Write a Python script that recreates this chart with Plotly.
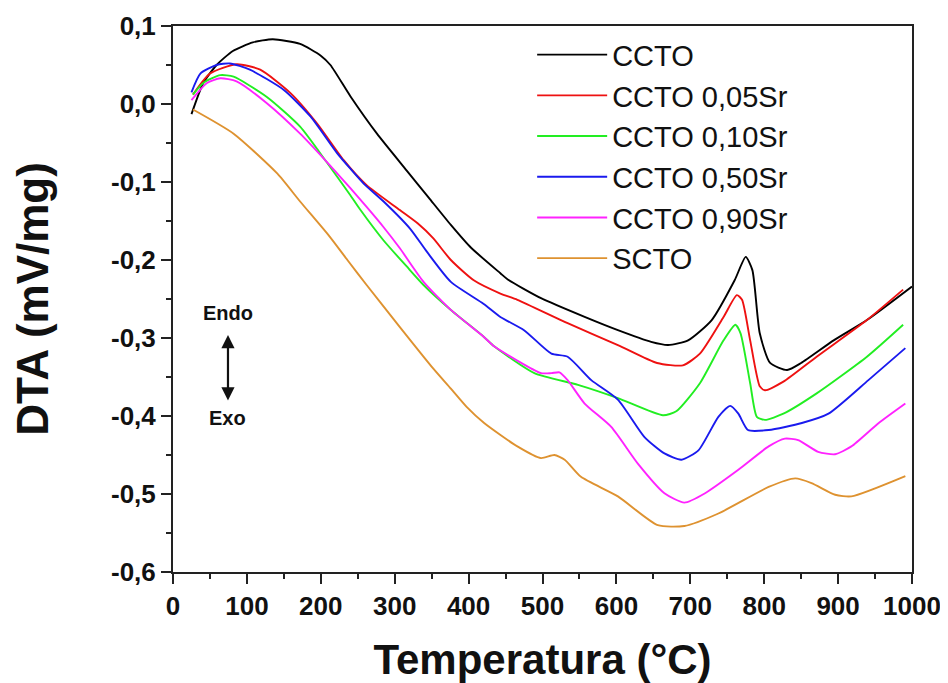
import plotly.graph_objects as go

# ---------------- data ----------------
T_ccto = [25, 41, 59, 81, 108, 135, 172, 200, 213, 240, 276, 316, 346, 376, 403, 443, 453, 498,
          557, 602, 647, 670, 697, 729, 760, 775, 784, 794, 808, 831, 850, 894, 939, 1000]
y_ccto = [-0.013, 0.027, 0.050, 0.068, 0.079, 0.083, 0.077, 0.062, 0.050, 0.010, -0.038, -0.085, -0.120,
          -0.155, -0.184, -0.217, -0.225, -0.249, -0.273, -0.290, -0.305, -0.309, -0.303, -0.277, -0.226,
          -0.196, -0.213, -0.294, -0.332, -0.341, -0.332, -0.303, -0.277, -0.234]

T_005 = [27, 50, 86, 118, 159, 195, 231, 262, 307, 331, 352, 376, 407, 443, 466, 534, 602, 655, 690,
         713, 745, 763, 770, 781, 794, 801, 826, 871, 939, 988]
y_005 = [0.012, 0.039, 0.051, 0.044, 0.014, -0.025, -0.072, -0.104, -0.136, -0.153, -0.172, -0.200,
         -0.226, -0.243, -0.251, -0.281, -0.309, -0.332, -0.335, -0.320, -0.273, -0.245, -0.251, -0.303, -0.362,
         -0.367, -0.356, -0.324, -0.277, -0.238]

T_010 = [27, 41, 64, 82, 127, 172, 209, 240, 253, 285, 316, 339, 376, 420, 435, 489, 548, 602, 663, 681,
         713, 745, 761, 768, 781, 790, 801, 826, 871, 939, 988]
y_010 = [0.012, 0.027, 0.037, 0.035, 0.009, -0.029, -0.076, -0.117, -0.135, -0.175, -0.208, -0.232, -0.264,
         -0.298, -0.311, -0.345, -0.360, -0.377, -0.399, -0.394, -0.358, -0.303, -0.283, -0.294, -0.358, -0.401,
         -0.405, -0.397, -0.371, -0.324, -0.283]

T_050 = [25, 37, 59, 77, 104, 150, 186, 222, 240, 258, 285, 321, 344, 376, 420, 443, 475, 512, 534, 566,
         602, 638, 665, 688, 711, 738, 754, 765, 778, 806, 851, 887, 941, 991]
y_050 = [0.015, 0.039, 0.050, 0.052, 0.044, 0.018, -0.016, -0.063, -0.083, -0.102, -0.125, -0.160, -0.190,
         -0.228, -0.256, -0.273, -0.290, -0.320, -0.324, -0.354, -0.379, -0.427, -0.448, -0.456, -0.444, -0.401,
         -0.387, -0.397, -0.418, -0.418, -0.409, -0.397, -0.354, -0.313]

T_090 = [25, 46, 64, 86, 127, 172, 204, 240, 262, 285, 307, 339, 376, 420, 435, 498, 512, 523, 534, 557,
         593, 629, 665, 692, 720, 765, 806, 828, 846, 873, 896, 918, 955, 991]
y_090 = [0.005, 0.027, 0.033, 0.029, 0.001, -0.038, -0.070, -0.108, -0.132, -0.158, -0.185, -0.228, -0.264,
         -0.298, -0.311, -0.345, -0.345, -0.344, -0.354, -0.384, -0.414, -0.461, -0.499, -0.511, -0.499, -0.469,
         -0.439, -0.429, -0.431, -0.446, -0.449, -0.439, -0.409, -0.384]

T_scto = [27, 82, 141, 172, 212, 236, 262, 307, 352, 376, 397, 421, 466, 498, 516, 530, 552, 602, 656, 692,
          738, 806, 842, 864, 896, 918, 991]
y_scto = [-0.007, -0.038, -0.089, -0.125, -0.170, -0.200, -0.232, -0.286, -0.339, -0.365, -0.388, -0.409,
          -0.439, -0.454, -0.450, -0.456, -0.478, -0.503, -0.540, -0.541, -0.525, -0.491, -0.480, -0.486, -0.501,
          -0.503, -0.477]

series_names = ["CCTO", "CCTO 0,05Sr", "CCTO 0,10Sr", "CCTO 0,50Sr", "CCTO 0,90Sr", "SCTO"]
series_colors = ["#000000", "#ee1111", "#22ee22", "#1a1aee", "#ff22ff", "#de9230"]

x_tick_vals = [0, 100, 200, 300, 400, 500, 600, 700, 800, 900, 1000]
x_tick_text = ["0", "100", "200", "300", "400", "500", "600", "700", "800", "900", "1000"]
y_tick_vals = [-0.6, -0.5, -0.4, -0.3, -0.2, -0.1, 0.0, 0.1]
y_tick_text = ["-0,6", "-0,5", "-0,4", "-0,3", "-0,2", "-0,1", "0,0", "0,1"]

# ---------------- figure ----------------
FONT = "Arial, Liberation Sans, sans-serif"
xs = [T_ccto, T_005, T_010, T_050, T_090, T_scto]
ys = [y_ccto, y_005, y_010, y_050, y_090, y_scto]

fig = go.Figure()
for x, y, n, c in zip(xs, ys, series_names, series_colors):
    fig.add_trace(go.Scatter(x=x, y=y, mode="lines", name=n,
                             line=dict(color=c, width=1.9, shape="spline", smoothing=0.6)))

axis_common = dict(showline=True, linewidth=2, linecolor="#222", mirror=True,
                   ticks="outside", ticklen=10, tickwidth=2, tickcolor="#222",
                   showgrid=False, zeroline=False, automargin=False,
                   tickfont=dict(family=FONT, size=26, color="#111", weight="bold"))

fig.update_layout(
    width=948, height=683,
    margin=dict(l=165, r=44, t=18, b=119),
    paper_bgcolor="white", plot_bgcolor="white",
    showlegend=True,
    legend=dict(x=0.486, y=0.994, xanchor="left", yanchor="top",
                font=dict(family=FONT, size=29, color="#111"),
                bgcolor="rgba(0,0,0,0)", itemwidth=70, tracegroupgap=0),
    xaxis=dict(range=[0, 1000], tickvals=x_tick_vals, ticktext=x_tick_text,
               minor=dict(ticks="outside", ticklen=5, tickwidth=2, tickcolor="#222", dtick=50, tick0=0),
               title=dict(text="Temperatura (°C)", standoff=24,
                          font=dict(family=FONT, size=42, color="#111", weight="bold")),
               **axis_common),
    yaxis=dict(range=[-0.6, 0.1], tickvals=y_tick_vals, ticktext=y_tick_text,
               minor=dict(ticks="outside", ticklen=5, tickwidth=2, tickcolor="#222", dtick=0.05, tick0=0),
               title=dict(text="DTA (mV/mg)", standoff=55,
                          font=dict(family=FONT, size=44, color="#111", weight="bold")),
               **axis_common),
)

# Endo / Exo indicator
fig.add_annotation(x=0.0744, y=0.4744, xref="paper", yref="paper", text="Endo", showarrow=False,
                   xanchor="center", yanchor="middle",
                   font=dict(family=FONT, size=20, color="#111", weight="bold"))
fig.add_annotation(x=0.0744, y=0.282, xref="paper", yref="paper", text="Exo", showarrow=False,
                   xanchor="center", yanchor="middle",
                   font=dict(family=FONT, size=20, color="#111", weight="bold"))
fig.add_annotation(x=0.0744, y=0.434, xref="paper", yref="paper", text="", showarrow=True,
                   ax=0, ay=67, arrowhead=2, arrowside="end+start", arrowsize=1.2, arrowwidth=2.2,
                   arrowcolor="#111", standoff=0, startstandoff=0)

fig.write_html("out.html")
